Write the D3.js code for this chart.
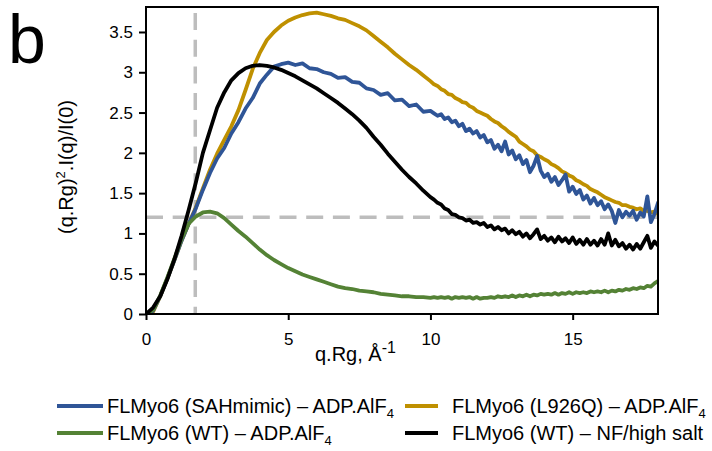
<!DOCTYPE html>
<html lang="en">
<head>
<meta charset="utf-8">
<script src="https://cdn.jsdelivr.net/npm/d3@7"></script>
<style>
  body { margin: 0; background: #fff; }
  svg { font-family: "Liberation Sans", Arial, sans-serif; }
  .tick text { font-size: 17px; fill: #000; }
  .tick line { stroke: #000; stroke-width: 2; }
  .series { fill: none; stroke-width: 3.8; stroke-linejoin: round; stroke-linecap: round; }
  .guide { stroke: #bdbdbd; stroke-width: 3.5; stroke-dasharray: 17,9.7; }
</style>
</head>
<body>
<svg id="chart" width="712" height="451"></svg>
<script>
// q.Rg grid shared by all four curves (finer where the data gets noisy)
var qrg = [
  0, 0.25, 0.5, 0.75, 1, 1.25, 1.5, 1.75,
  2, 2.25, 2.5, 2.75, 3, 3.25, 3.5, 3.75,
  4, 4.25, 4.5, 4.75, 5, 5.25, 5.5, 5.75,
  6, 6.25, 6.5, 6.75, 7, 7.25, 7.5, 7.75,
  8, 8.25, 8.5, 8.75, 9, 9.25, 9.5, 9.75,
  10, 10.125, 10.25, 10.375, 10.5, 10.625, 10.75, 10.875,
  11, 11.125, 11.25, 11.375, 11.5, 11.625, 11.75, 11.875,
  12, 12.125, 12.25, 12.375, 12.5, 12.625, 12.75, 12.875,
  13, 13.125, 13.25, 13.375, 13.5, 13.625, 13.75, 13.875,
  14, 14.125, 14.25, 14.375, 14.5, 14.625, 14.75, 14.875,
  15, 15.125, 15.25, 15.375, 15.5, 15.625, 15.75, 15.875,
  16, 16.125, 16.25, 16.375, 16.5, 16.625, 16.75, 16.875,
  17, 17.125, 17.25, 17.375, 17.5, 17.625, 17.75, 17.875,
  18
];

var sahMimic = [
  0, 0.04, 0.22, 0.44, 0.67, 0.91, 1.12, 1.31,
  1.54, 1.75, 1.93, 2.06, 2.24, 2.38, 2.55, 2.68,
  2.86, 2.97, 3.07, 3.10, 3.12, 3.09, 3.11, 3.05,
  3.04, 3.00, 2.98, 2.93, 2.94, 2.88, 2.87, 2.80,
  2.78, 2.72, 2.74, 2.65, 2.66, 2.58, 2.60, 2.51,
  2.52, 2.49, 2.46, 2.48, 2.42, 2.44, 2.38, 2.40,
  2.33, 2.36, 2.27, 2.30, 2.24, 2.27, 2.19, 2.22,
  2.13, 2.16, 2.05, 2.10, 2.02, 2.14, 1.98, 2.03,
  1.92, 1.97, 1.86, 1.91, 1.76, 1.84, 1.96, 1.78,
  1.70, 1.74, 1.64, 1.70, 1.60, 1.66, 1.73, 1.52,
  1.58, 1.49, 1.54, 1.42, 1.47, 1.37, 1.44, 1.35,
  1.40, 1.30, 1.36, 1.28, 1.13, 1.29, 1.20, 1.27,
  1.22, 1.28, 1.17, 1.26, 1.21, 1.46, 1.14, 1.24,
  1.38
];

var l926q = [
  0, 0.03, 0.22, 0.44, 0.67, 0.91, 1.12, 1.32,
  1.56, 1.79, 1.99, 2.16, 2.33, 2.53, 2.78, 3.04,
  3.24, 3.40, 3.50, 3.58, 3.64, 3.68, 3.71, 3.73,
  3.74, 3.72, 3.70, 3.67, 3.65, 3.61, 3.57, 3.52,
  3.45, 3.38, 3.31, 3.23, 3.16, 3.09, 3.03, 2.96,
  2.89, 2.85, 2.83, 2.79, 2.77, 2.73, 2.72, 2.68,
  2.66, 2.63, 2.62, 2.58, 2.56, 2.52, 2.50, 2.48,
  2.46, 2.42, 2.39, 2.37, 2.33, 2.30, 2.26, 2.23,
  2.20, 2.14, 2.11, 2.08, 2.04, 2.02, 1.97, 1.95,
  1.92, 1.90, 1.86, 1.84, 1.81, 1.77, 1.75, 1.72,
  1.70, 1.66, 1.64, 1.61, 1.59, 1.55, 1.53, 1.51,
  1.48, 1.45, 1.43, 1.41, 1.39, 1.38, 1.35, 1.35,
  1.33, 1.32, 1.30, 1.31, 1.28, 1.28, 1.26, 1.27,
  1.24
];

var wtAdp = [
  0, 0.05, 0.23, 0.45, 0.69, 0.93, 1.12, 1.21,
  1.26, 1.27, 1.25, 1.19, 1.11, 1.03, 0.96, 0.88,
  0.80, 0.73, 0.67, 0.62, 0.57, 0.53, 0.49, 0.46,
  0.43, 0.40, 0.37, 0.34, 0.32, 0.31, 0.29, 0.28,
  0.27, 0.25, 0.24, 0.23, 0.22, 0.22, 0.21, 0.21,
  0.20, 0.21, 0.20, 0.21, 0.20, 0.21, 0.19, 0.21,
  0.20, 0.21, 0.20, 0.21, 0.19, 0.21, 0.19, 0.20,
  0.20, 0.21, 0.20, 0.22, 0.21, 0.22, 0.21, 0.23,
  0.21, 0.23, 0.22, 0.24, 0.22, 0.24, 0.23, 0.25,
  0.24, 0.25, 0.24, 0.26, 0.24, 0.26, 0.25, 0.27,
  0.25, 0.27, 0.26, 0.27, 0.26, 0.28, 0.27, 0.28,
  0.27, 0.29, 0.27, 0.29, 0.28, 0.30, 0.29, 0.31,
  0.30, 0.32, 0.31, 0.33, 0.32, 0.35, 0.34, 0.38,
  0.41
];

var wtNf = [
  0, 0.08, 0.22, 0.43, 0.68, 0.97, 1.29, 1.63,
  2.00, 2.28, 2.56, 2.75, 2.90, 2.99, 3.05, 3.08,
  3.09, 3.08, 3.06, 3.03, 2.99, 2.95, 2.90, 2.85,
  2.80, 2.74, 2.68, 2.62, 2.55, 2.48, 2.40, 2.31,
  2.20, 2.10, 1.99, 1.89, 1.79, 1.70, 1.62, 1.53,
  1.45, 1.42, 1.38, 1.36, 1.31, 1.29, 1.24, 1.23,
  1.20, 1.19, 1.16, 1.17, 1.13, 1.14, 1.11, 1.13,
  1.08, 1.10, 1.05, 1.08, 1.04, 1.06, 1.00, 1.04,
  0.99, 1.02, 0.96, 1.00, 0.94, 0.99, 1.05, 0.93,
  0.97, 0.91, 0.95, 0.89, 0.96, 0.90, 0.94, 0.88,
  0.95, 0.87, 0.92, 0.86, 0.93, 0.86, 0.91, 0.85,
  0.93, 0.86, 1.00, 0.85, 0.92, 0.84, 0.88, 0.81,
  0.86, 0.80, 0.87, 0.81, 0.89, 0.97, 0.82, 0.90,
  0.85
];

var seriesNames = [
  "FLMyo6 (L926Q) – ADP.AlF",
  "FLMyo6 (SAHmimic) – ADP.AlF",
  "FLMyo6 (WT) – ADP.AlF",
  "FLMyo6 (WT) – NF/high salt"
];
var seriesColors = ["#bf9000", "#2f5597", "#548235", "#000000"];
var seriesValues = [l926q, sahMimic, wtAdp, wtNf];

var xTicks = [0, 5, 10, 15];
var yTicks = [0, 0.5, 1, 1.5, 2, 2.5, 3, 3.5];
var guideX = Math.sqrt(3);
var guideY = 1.2;

(function() {
  var svg = d3.select("#chart");
  var pl = 146, pr = 658, pt = 7, pb = 314;

  var x = d3.scaleLinear().domain([0, 18]).range([pl, pr]);
  var y = d3.scaleLinear().domain([0, 3.81]).range([pb, pt]);

  svg.append("defs").append("clipPath").attr("id", "plot")
    .append("rect")
    .attr("x", pl).attr("y", pt)
    .attr("width", pr - pl).attr("height", pb - pt);

  // guide lines
  svg.append("line").attr("class", "guide")
    .attr("x1", x(guideX)).attr("x2", x(guideX))
    .attr("y1", pt + 6).attr("y2", pb);
  svg.append("line").attr("class", "guide")
    .attr("x1", pl).attr("x2", pr)
    .attr("y1", y(guideY)).attr("y2", y(guideY));

  var line = d3.line()
    .x(function(d, i) { return x(qrg[i]); })
    .y(function(d) { return y(d); });

  svg.append("g").attr("clip-path", "url(#plot)")
    .selectAll("path")
    .data(seriesValues)
    .enter().append("path")
      .attr("class", "series")
      .attr("stroke", function(d, i) { return seriesColors[i]; })
      .attr("d", line);

  // axes
  svg.append("g")
    .attr("transform", "translate(0," + pb + ")")
    .call(d3.axisBottom(x).tickValues(xTicks).tickSize(6).tickPadding(13)
      .tickFormat(function(d) { return String(d); }))
    .call(function(g) { g.select(".domain").remove(); });

  svg.append("g")
    .attr("transform", "translate(" + pl + ",0)")
    .call(d3.axisLeft(y).tickValues(yTicks).tickSize(7).tickPadding(6)
      .tickFormat(function(d) { return String(d); }))
    .call(function(g) { g.select(".domain").remove(); });

  svg.append("rect")
    .attr("x", pl).attr("y", pt)
    .attr("width", pr - pl).attr("height", pb - pt)
    .attr("fill", "none").attr("stroke", "#000").attr("stroke-width", 2);

  // axis titles
  var xt = svg.append("text")
    .attr("x", 315).attr("y", 361)
    .attr("font-size", 20);
  xt.append("tspan").text("q.Rg, Å");
  xt.append("tspan").attr("font-size", 16).attr("dy", -8).text("-1");

  var yt = svg.append("text")
    .attr("transform", "translate(73,167) rotate(-90)")
    .attr("text-anchor", "middle")
    .attr("font-size", 20);
  yt.append("tspan").text("(q.Rg)");
  yt.append("tspan").attr("font-size", 13).attr("dy", -8).text("2");
  yt.append("tspan").attr("dy", 8).text(".I(q)/I(0)");

  // panel letter
  svg.append("text")
    .attr("x", 8).attr("y", 63)
    .attr("font-size", 68)
    .text("b");

  // legend
  var legendItems = [
    { i: 1, lx: 57, lw: 46, tx: 107, y: 406, sub: true },
    { i: 0, lx: 405, lw: 33, tx: 452, y: 406, sub: true },
    { i: 2, lx: 57, lw: 46, tx: 107, y: 433, sub: true },
    { i: 3, lx: 405, lw: 33, tx: 452, y: 433, sub: false }
  ];

  var lg = svg.append("g").selectAll("g")
    .data(legendItems)
    .enter().append("g");

  lg.append("line")
    .attr("x1", function(d) { return d.lx; })
    .attr("x2", function(d) { return d.lx + d.lw; })
    .attr("y1", function(d) { return d.y; })
    .attr("y2", function(d) { return d.y; })
    .attr("stroke", function(d) { return seriesColors[d.i]; })
    .attr("stroke-width", 4);

  var lt = lg.append("text")
    .attr("x", function(d) { return d.tx; })
    .attr("y", function(d) { return d.y + 7; })
    .attr("font-size", 20);
  lt.append("tspan").text(function(d) { return seriesNames[d.i]; });
  lt.filter(function(d) { return d.sub; })
    .append("tspan").attr("font-size", 13).attr("dy", 5).text("4");
})();
</script>
</body>
</html>
